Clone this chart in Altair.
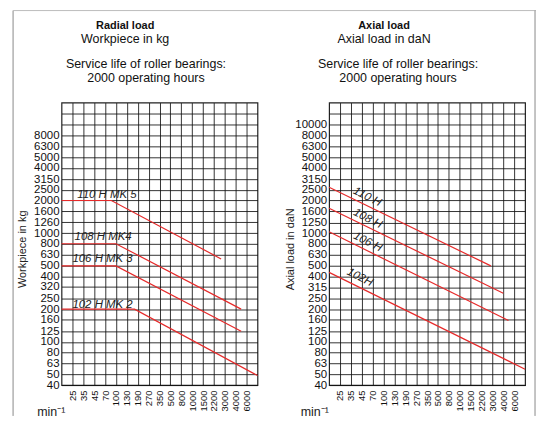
import altair as alt
import pandas as pd

# ---------------- data ----------------
# speed axis (min^-1): the grid columns are evenly spaced, labels at the column lines
speed_ticks = [25, 35, 45, 70, 100, 130, 190, 270, 350, 500, 800, 1000, 1500, 2200, 3000, 4000, 6000]
speed_edges = [18, 8500]  # nominal values at the left / right border of the grid

radial_ticks = [40, 50, 63, 80, 100, 125, 160, 200, 250, 320, 400, 500, 630, 800, 1000,
                1260, 1600, 2000, 2500, 3150, 4000, 5000, 6300, 8000, 10000, 12500]
axial_ticks = [40, 50, 63, 80, 100, 125, 160, 200, 250, 315, 400, 500, 630, 800, 1000,
               1250, 1600, 2000, 2500, 3150, 4000, 5000, 6300, 8000, 10000, 12500]
load_domain = [40, 15924]

# radial load curves (speed, workpiece kg)
radial_names = ["110 H MK 5", "108 H MK4", "106 H MK 3", "102 H MK 2"]
radial_speed = [[18, 86, 2700], [18, 100, 4900], [18, 100, 4900], [18, 170, 8500]]
radial_load = [[2000, 2000, 580], [800, 800, 200], [500, 500, 125], [200, 200, 49]]
radial_label_speed = [29, 26.7, 25, 25]
radial_label_load = [2110, 870, 547, 207]

# axial load curves (speed, axial load daN)
axial_names = ["110 H", "108 H", "106 H", "102H"]
axial_speed = [[18, 2870], [18, 4000], [18, 4850], [18, 8500]]
axial_load = [[2650, 500], [1700, 280], [1030, 157], [436, 56]]
axial_label_speed = [56, 57, 57, 43]
axial_label_load = [2150, 1355, 825, 390]

# ---------------- layout ----------------
W, H = 197, 284
FONT = "Liberation Sans"
RED = "#e62a2a"
x_domain = [speed_edges[0]] + speed_ticks + [speed_edges[1]]
x_range = [i * W / (len(x_domain) - 1) for i in range(len(x_domain))]


def curves_df(names, speeds, loads):
    rows = []
    for n, s, l in zip(names, speeds, loads):
        for k, (a, b) in enumerate(zip(s, l)):
            rows.append({"series": n, "speed": a, "load": b, "k": k})
    return pd.DataFrame(rows)


def panel(title, subtitle, ytitle, yticks, ymax_label, names, speeds, loads,
          lab_speed, lab_load, rotated, title_dx, service_x, frame_left, frame_right):
    xs = alt.Scale(type="log", domain=x_domain, range=x_range, nice=False)
    ys = alt.Scale(type="log", domain=load_domain, nice=False)
    grid = dict(grid=True, gridColor="#111111", gridWidth=0.85, ticks=False, domain=False)
    xaxis = alt.Axis(orient="bottom", values=speed_ticks, format="d", labelAngle=270,
                     labelFontSize=9.5, labelPadding=5, labelOverlap=False, labelColor="#111",
                     title="min⁻¹", titleX=-25 if frame_left else -29, titleY=27,
                     titleAlign="left", titleBaseline="middle", titleFontSize=12.5,
                     titleFontWeight="normal", titleColor="#222", **grid)
    yaxis = alt.Axis(orient="left", values=yticks, format="d",
                     labelExpr=f"datum.value > {ymax_label} ? '' : datum.label",
                     labelFontSize=11.5, labelPadding=2.5, labelOverlap=False,
                     labelColor="#111", title=ytitle, titleX=-39, titleY=147,
                     titleBaseline="middle", titleFontSize=11, titleFontWeight="normal",
                     titleColor="#222", **grid)
    lines = alt.Chart(curves_df(names, speeds, loads)).mark_line(
        color=RED, strokeWidth=1.2
    ).encode(
        x=alt.X("speed:Q", scale=xs, axis=xaxis),
        y=alt.Y("load:Q", scale=ys, axis=yaxis),
        detail="series:N",
        order="k:Q",
    )
    lab = pd.DataFrame({"name": names, "speed": lab_speed, "load": lab_load})
    if rotated:
        tmark = alt.Chart(lab).mark_text(fontStyle="italic", fontSize=11.5, color="#222",
                                         align="center", baseline="middle", angle=27)
    else:
        tmark = alt.Chart(lab).mark_text(fontStyle="italic", fontSize=11.5, color="#222",
                                         align="left", baseline="alphabetic")
    top_axis = alt.Axis(orient="top", labels=False, ticks=False, domain=False, grid=False,
                        title=["Service life of roller bearings:", "2000 operating hours"],
                        titleX=service_x, titleY=-45, titleAlign="center",
                        titleBaseline="top", titleFontSize=12.5, titleFontWeight="normal",
                        titleLineHeight=14, titleColor="#111")
    texts = tmark.encode(
        x=alt.X("speed:Q", scale=xs, axis=top_axis),
        y=alt.Y("load:Q", scale=ys, axis=None),
        text="name:N",
    )
    layers = [lines, texts]
    if frame_left:
        layers.append(alt.Chart().mark_rule(color="#888", strokeWidth=1).encode(
            x=alt.value(-48.7), y=alt.value(-92.5), y2=alt.value(315)))
        layers.append(alt.Chart().mark_rule(color="#bbb", strokeWidth=1).encode(
            x=alt.value(-48.7), x2=alt.value(477), y=alt.value(-92.5)))
    if frame_right:
        layers.append(alt.Chart().mark_rule(color="#888", strokeWidth=1).encode(
            x=alt.value(207), y=alt.value(-92.5), y2=alt.value(315)))
    return alt.layer(*layers).resolve_axis(x="independent", y="independent").properties(
        width=W, height=H,
        title=alt.TitleParams(text=title, subtitle=subtitle, frame="group", anchor="middle",
                              dx=title_dx, offset=-35.5, fontSize=11, fontWeight="bold",
                              subtitleFontSize=12.5, subtitlePadding=2, color="#111",
                              subtitleColor="#111"),
    )


left = panel("Radial load", "Workpiece in kg", "Workpiece in kg", radial_ticks, 9000,
             radial_names, radial_speed, radial_load, radial_label_speed, radial_label_load,
             False, -34.5, 84.4, True, False)
right = panel("Axial load", "Axial load in daN", "Axial load in daN", axial_ticks, 11000,
              axial_names, axial_speed, axial_load, axial_label_speed, axial_label_load,
              True, -43.3, 68.8, False, True)

chart = alt.hconcat(left, right, spacing=72, bounds="flush").properties(
    padding={"left": 3.8, "top": 0, "right": 0, "bottom": 0}
).configure(font=FONT).configure_view(stroke="#222222", strokeWidth=1.2)

chart.save("out.html", embed_options={"renderer": "svg", "actions": False})
